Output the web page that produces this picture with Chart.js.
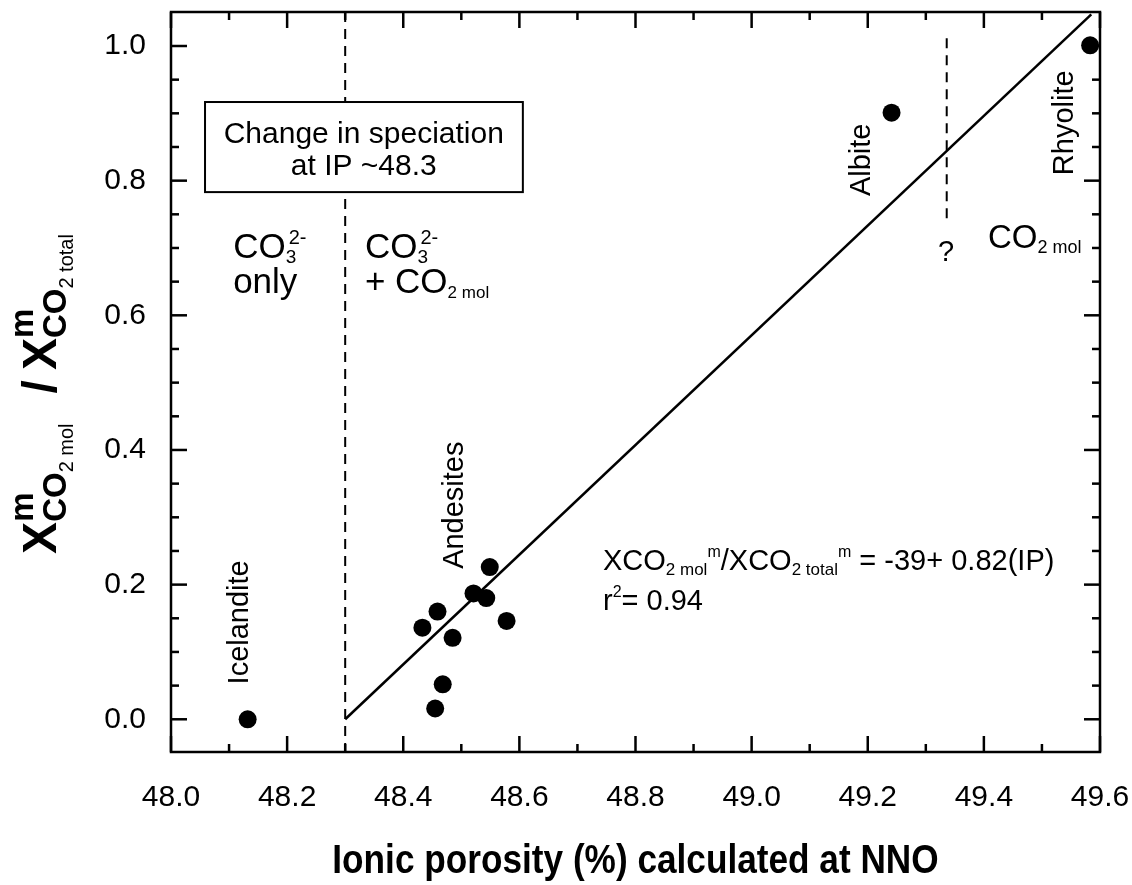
<!DOCTYPE html>
<html>
<head>
<meta charset="utf-8">
<script src="https://cdn.jsdelivr.net/npm/chart.js@4.4.1/dist/chart.umd.min.js"></script>
<style>
    html, body { margin: 0; padding: 0; background: #fff; }
</style>
</head>
<body>
<canvas id="chart_Porosity" width="1132" height="885"></canvas>
<script>
// ionic porosity (%) vs X CO2mol / X CO2total
const andesiteIP = [48.549, 48.521, 48.543, 48.459, 48.433, 48.485, 48.578, 48.468, 48.455];
const andesiteRatio = [0.226, 0.187, 0.180, 0.160, 0.136, 0.121, 0.146, 0.052, 0.016];
const icelanditeIP = [48.132];
const icelanditeRatio = [0.0];
const albiteIP = [49.241];
const albiteRatio = [0.901];
const rhyoliteIP = [49.583];
const rhyoliteRatio = [1.001];

// regression line and boundaries
const fitIP = [48.3, 49.585];
const fitRatio = [0.0, 1.047];
const speciationIP = [48.3, 48.3];
const speciationRatio = [-0.05, 1.06];
const upperIP = [49.336, 49.336];
const upperRatio = [0.744, 1.019];

// ticks
const xTicks = [48.0, 48.2, 48.4, 48.6, 48.8, 49.0, 49.2, 49.4, 49.6];
const xTickLabels = ["48.0", "48.2", "48.4", "48.6", "48.8", "49.0", "49.2", "49.4", "49.6"];
const xMinorTicks = [48.1, 48.3, 48.5, 48.7, 48.9, 49.1, 49.3, 49.5];
const yTicks = [0.0, 0.2, 0.4, 0.6, 0.8, 1.0];
const yTickLabels = ["0.0", "0.2", "0.4", "0.6", "0.8", "1.0"];
const yMinorTicks = [0.05, 0.1, 0.15, 0.25, 0.3, 0.35, 0.45, 0.5, 0.55, 0.65, 0.7, 0.75, 0.85, 0.9, 0.95];

const FONT = "'Liberation Sans', Arial, sans-serif";

function pts(xs, ys) {
    return xs.map((v, i) => ({ x: v, y: ys[i] }));
}

// draws a run of text pieces, returns the width
function drawRich(ctx, x, y, parts, measureOnly) {
    let cx = x;
    for (const p of parts) {
        if (p.gap) { cx += p.gap; continue; }
        ctx.font = (p.bold ? "bold " : "") + p.size + "px " + FONT;
        const w = ctx.measureText(p.t).width;
        if (!measureOnly) ctx.fillText(p.t, cx + (p.dx || 0), y + (p.dy || 0));
        if (!p.noAdv) cx += w;
    }
    return cx - x;
}

const axesPlugin = {
    id: "axesPlugin",
    afterDraw(chart) {
        const { ctx, chartArea: a, scales: { x, y } } = chart;
        const X = (v) => x.getPixelForValue(v);
        const Y = (v) => y.getPixelForValue(v);
        ctx.save();
        ctx.strokeStyle = "#000";
        ctx.fillStyle = "#000";
        ctx.lineWidth = 2.5;

        // frame
        ctx.strokeRect(a.left, a.top, a.right - a.left, a.bottom - a.top);

        // inward ticks on all sides
        const tick = (x1, y1, x2, y2) => {
            ctx.beginPath();
            ctx.moveTo(x1, y1);
            ctx.lineTo(x2, y2);
            ctx.stroke();
        };
        xTicks.forEach((v) => {
            tick(X(v), a.bottom, X(v), a.bottom - 16);
            tick(X(v), a.top, X(v), a.top + 16);
        });
        xMinorTicks.forEach((v) => {
            tick(X(v), a.bottom, X(v), a.bottom - 8);
            tick(X(v), a.top, X(v), a.top + 8);
        });
        yTicks.forEach((v) => {
            tick(a.left, Y(v), a.left + 16, Y(v));
            tick(a.right, Y(v), a.right - 16, Y(v));
        });
        yMinorTicks.forEach((v) => {
            tick(a.left, Y(v), a.left + 8, Y(v));
            tick(a.right, Y(v), a.right - 8, Y(v));
        });

        // tick labels
        ctx.font = "30px " + FONT;
        ctx.textAlign = "center";
        ctx.textBaseline = "middle";
        xTicks.forEach((v, i) => ctx.fillText(xTickLabels[i], X(v), a.bottom + 46));
        ctx.textAlign = "right";
        yTicks.forEach((v, i) => ctx.fillText(yTickLabels[i], a.left - 25, Y(v)));

        // x axis title (condensed bold)
        ctx.save();
        ctx.translate((a.left + a.right) / 2, 862);
        ctx.scale(0.88, 1);
        ctx.textAlign = "center";
        ctx.font = "bold 40px " + FONT;
        ctx.fillText("Ionic porosity (%) calculated at NNO", 0, 0);
        ctx.restore();

        // y axis title
        ctx.textAlign = "left";
        ctx.textBaseline = "alphabetic";
        const yTitle = [
            { t: "X", size: 48, bold: true },
            { t: "m", size: 33, bold: true, dy: -23, noAdv: true },
            { t: "CO", size: 33, bold: true, dy: 10 },
            { t: "2 mol", size: 20, dy: 17 },
            { gap: 30 },
            { t: "/", size: 48, bold: true },
            { gap: 10 },
            { t: "X", size: 48, bold: true },
            { t: "m", size: 33, bold: true, dy: -23, noAdv: true },
            { t: "CO", size: 33, bold: true, dy: 10 },
            { t: "2 total", size: 20, dy: 17 },
        ];
        ctx.save();
        ctx.translate(56, (a.top + a.bottom) / 2 + 12);
        ctx.rotate(-Math.PI / 2);
        const tw = drawRich(ctx, 0, 0, yTitle, true);
        drawRich(ctx, -tw / 2, 0, yTitle);
        ctx.restore();

        // speciation box
        const bx1 = X(48.0586), bx2 = X(48.606), by1 = Y(0.9168), by2 = Y(0.783);
        ctx.fillStyle = "#fff";
        ctx.fillRect(bx1, by1, bx2 - bx1, by2 - by1);
        ctx.lineWidth = 2;
        ctx.strokeRect(bx1, by1, bx2 - bx1, by2 - by1);
        ctx.fillStyle = "#000";
        ctx.textAlign = "center";
        ctx.font = "30px " + FONT;
        ctx.fillText("Change in speciation", X(48.332), Y(0.856));
        ctx.fillText("at IP ~48.3", X(48.332), Y(0.808));

        // field labels
        ctx.textAlign = "left";
        const co3 = [
            { t: "CO", size: 35 },
            { t: "2-", size: 20, dx: 3, dy: -14, noAdv: true },
            { t: "3", size: 19, dy: 5 },
        ];
        drawRich(ctx, X(48.107), Y(0.685), co3);
        drawRich(ctx, X(48.107), Y(0.633), [{ t: "only", size: 35 }]);
        drawRich(ctx, X(48.334), Y(0.685), co3);
        drawRich(ctx, X(48.334), Y(0.633), [
            { t: "+ CO", size: 35 },
            { t: "2 mol", size: 17, dy: 5 },
        ]);
        drawRich(ctx, X(49.407), Y(0.700), [
            { t: "CO", size: 33 },
            { t: "2 mol", size: 18, dy: 5 },
        ]);
        ctx.textAlign = "center";
        ctx.textBaseline = "middle";
        ctx.font = "29px " + FONT;
        ctx.fillText("?", X(49.335), Y(0.692));

        // regression equation
        ctx.textAlign = "left";
        ctx.textBaseline = "alphabetic";
        drawRich(ctx, X(48.744), Y(0.221), [
            { t: "XCO", size: 29 },
            { t: "2 mol", size: 17, dy: 5 },
            { t: "m", size: 16, dy: -13 },
            { t: "/XCO", size: 29 },
            { t: "2 total", size: 17, dy: 5 },
            { t: "m", size: 16, dy: -13 },
            { t: " = -39+ 0.82(IP)", size: 29 },
        ]);
        drawRich(ctx, X(48.744), Y(0.162), [
            { t: "r", size: 29 },
            { t: "2", size: 16, dy: -13 },
            { t: "= 0.94", size: 29 },
        ]);

        // rotated sample names
        const vlabel = (txt, vx, vy) => {
            ctx.save();
            ctx.translate(X(vx), Y(vy));
            ctx.rotate(-Math.PI / 2);
            ctx.textAlign = "center";
            ctx.textBaseline = "middle";
            ctx.font = "29px " + FONT;
            ctx.fillText(txt, 0, 0);
            ctx.restore();
        };
        vlabel("Icelandite", 48.119, 0.144);
        vlabel("Andesites", 48.489, 0.318);
        vlabel("Albite", 49.190, 0.831);
        vlabel("Rhyolite", 49.540, 0.886);

        ctx.restore();
    },
};

const ctx = document.getElementById("chart_Porosity").getContext("2d");
const chart_Porosity = new Chart(ctx, {
    type: "scatter",
    data: {
        datasets: [
            {
                label: "Samples",
                data: [
                    ...pts(icelanditeIP, icelanditeRatio),
                    ...pts(andesiteIP, andesiteRatio),
                    ...pts(albiteIP, albiteRatio),
                    ...pts(rhyoliteIP, rhyoliteRatio),
                ],
                pointRadius: 9,
                pointHoverRadius: 9,
                backgroundColor: "#000",
                borderWidth: 0,
                order: 0,
            },
            {
                type: "line",
                label: "Fit",
                data: pts(fitIP, fitRatio),
                borderColor: "#000",
                borderWidth: 2.5,
                pointRadius: 0,
                order: 1,
            },
            {
                type: "line",
                label: "IP 48.3",
                data: pts(speciationIP, speciationRatio),
                borderColor: "#000",
                borderWidth: 2,
                borderDash: [10, 7],
                pointRadius: 0,
                order: 2,
            },
            {
                type: "line",
                label: "Upper",
                data: pts(upperIP, upperRatio),
                borderColor: "#000",
                borderWidth: 2,
                borderDash: [10, 7],
                pointRadius: 0,
                order: 2,
            },
        ],
    },
    options: {
        responsive: false,
        devicePixelRatio: 1,
        animation: false,
        layout: {
            padding: { left: 171, right: 32, top: 12, bottom: 133 },
        },
        plugins: {
            legend: { display: false },
            tooltip: { enabled: false },
        },
        scales: {
            x: { type: "linear", min: 48.0, max: 49.6, display: false },
            y: { type: "linear", min: -0.0486, max: 1.0505, display: false },
        },
    },
    plugins: [axesPlugin],
});
</script>
</body>
</html>
